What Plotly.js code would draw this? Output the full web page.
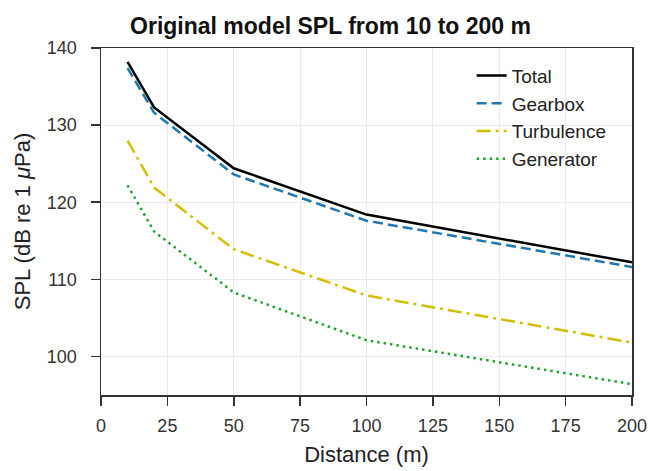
<!DOCTYPE html>
<html>
<head>
<meta charset="utf-8">
<script src="https://cdn.plot.ly/plotly-3.0.1.min.js"></script>
<style>html,body{margin:0;padding:0;background:#fff;}#chart{width:661px;height:471px;}</style>
</head>
<body>
<div id="chart"></div>
<script>
const distance = [10, 20, 50, 100, 200];
const total = [138.2, 132.3, 124.4, 118.4, 112.2];
const gearbox = [137.4, 131.6, 123.6, 117.6, 111.6];
const turbulence = [128.0, 121.9, 113.9, 107.9, 101.8];
const generator = [122.2, 116.2, 108.3, 102.1, 96.4];
const seriesNames = ["Total", "Gearbox", "Turbulence", "Generator"];
const xTicks = [0, 25, 50, 75, 100, 125, 150, 175, 200];
const yTicks = [100, 110, 120, 130, 140];

const FONT = "Liberation Sans, Arial, sans-serif";

const traces = [
  {x: distance, y: total, name: seriesNames[0], mode: "lines", line: {color: "#000000", width: 2.5}},
  {x: distance, y: gearbox, name: seriesNames[1], mode: "lines", line: {color: "#1f78b4", width: 2.5, dash: "10px,5px"}},
  {x: distance, y: turbulence, name: seriesNames[2], mode: "lines", line: {color: "#d1c000", width: 2.5, dash: "14px,5px,3px,5px"}},
  {x: distance, y: generator, name: seriesNames[3], mode: "lines", line: {color: "#22a035", width: 2.5, dash: "2.5px,4px"}}
];

const axisCommon = {
  showline: true, mirror: true, linecolor: "#333333", linewidth: 1.5,
  ticks: "outside", ticklen: 9, tickwidth: 1.5, tickcolor: "#333333",
  showgrid: true, gridcolor: "#ebebeb", gridwidth: 1,
  zeroline: false,
  tickfont: {family: FONT, size: 18, color: "#333333"}
};

const layout = {
  width: 661, height: 471,
  margin: {l: 101, r: 29, t: 48, b: 76},
  paper_bgcolor: "#ffffff", plot_bgcolor: "#ffffff",
  title: {text: "<b>Original model SPL from 10 to 200 m</b>", x: 0.5, xanchor: "center", y: 0.945, yanchor: "middle",
    font: {family: FONT, size: 23, color: "#111111"}},
  xaxis: Object.assign({}, axisCommon, {
    range: [0, 200], tickvals: xTicks, ticklabelstandoff: 5,
    title: {text: "Distance (m)", font: {family: FONT, size: 22, color: "#222222"}, standoff: 11}
  }),
  yaxis: Object.assign({}, axisCommon, {
    range: [95, 140], tickvals: yTicks, ticklabelstandoff: 10,
    title: {text: "SPL (dB re 1 <i>μ</i>Pa)", font: {family: FONT, size: 22, color: "#222222"}, standoff: 10}
  }),
  legend: {x: 0.698, y: 0.975, xanchor: "left", yanchor: "top", bgcolor: "rgba(0,0,0,0)", borderwidth: 0,
    font: {family: FONT, size: 19, color: "#222222"}},
  showlegend: true
};

Plotly.newPlot("chart", traces, layout, {displayModeBar: false, staticPlot: true});
</script>
</body>
</html>
